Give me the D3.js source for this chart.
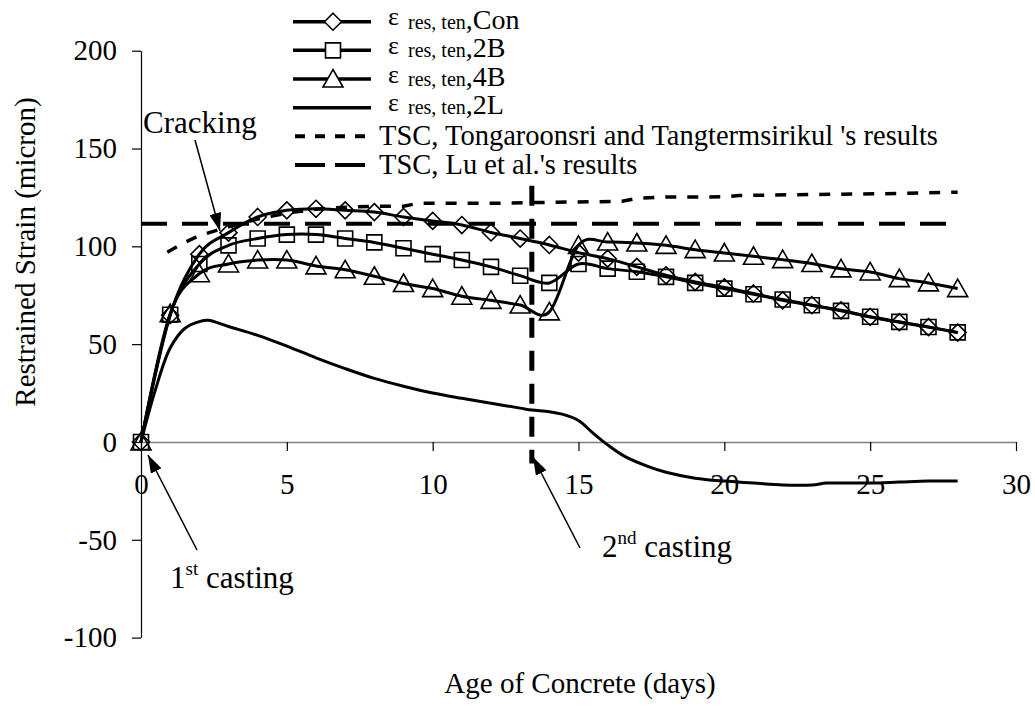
<!DOCTYPE html>
<html>
<head>
<meta charset="utf-8">
<script src="https://cdn.jsdelivr.net/npm/d3@7"></script>
<style>
  body { margin: 0; background: #fff; }
  svg { display: block; }
  text { font-family: "Liberation Serif", "Times New Roman", serif; fill: #000; }
</style>
</head>
<body>
<svg id="chart" width="1035" height="708"></svg>
<script>
// Age of concrete (days) at which the marked series were recorded
const days = [0, 1, 2, 3, 4, 5, 6, 7, 8, 9, 10, 11, 12, 13, 14,
              15, 16, 17, 18, 19, 20, 21, 22, 23, 24, 25, 26, 27, 28];

// Restrained tensile strain (micron) for each wall configuration
const conValues = [0, 64.8, 96, 107, 115, 118.4, 119.2, 118.4, 117.5, 115, 113, 110.9, 107.1, 104, 100.7,
                   96.8, 93.7, 89.5, 85.2, 81.8, 79, 75.9, 72.4, 69.9, 67.3, 63.9, 61.2, 58.7, 55.9];
const b2Values  = [0, 65, 91, 100.5, 104, 106, 106, 104, 102, 99, 96, 93, 89.5, 85, 81.3,
                   91, 88.6, 87, 84.4, 81.3, 78.4, 75.5, 72.8, 69.9, 67, 64, 61.4, 58.8, 56];
const b4Values  = [0, 65.6, 86, 91, 93, 93, 90, 88, 84.7, 81, 78.4, 74.5, 72.4, 70, 66.5,
                   100.5, 102.2, 101.7, 100.5, 98.3, 96.6, 94.9, 93.2, 91.2, 88.5, 86.9, 83.5, 81.3, 78.4];

// 2L configuration (no markers)
const l2Days   = [0, 0.5, 1, 1.5, 2, 2.3, 3, 4, 5, 6, 7, 8, 9, 10, 11, 12, 13, 13.4, 14, 14.5,
                  15, 15.5, 16, 16.6, 17.4, 18, 19, 20, 21, 22, 23, 23.5, 24, 25, 26, 27, 28];
const l2Values = [0, 27, 48, 58, 61.5, 62.2, 59, 54.5, 49, 43, 37.5, 32.5, 28.5, 25, 22.3, 19.8, 17.3, 16.3, 15.5, 14,
                  11, 4.5, -1.5, -7.5, -12.6, -15.5, -18.5, -20, -21, -22, -22, -21, -21, -21, -20.5, -20, -20];

// Tensile strain capacity, Tongaroonsri and Tangtermsirikul
const tongDays   = [0.9, 1.5, 2, 3, 4, 5, 6, 7, 8, 9, 9.5, 12, 14, 16.5, 17, 18, 20, 20.5, 23, 26, 28];
const tongValues = [97, 102, 105.5, 110, 114, 117, 119, 120, 120.5, 120.5, 122, 122, 122.5, 123, 124.5, 125.2, 125.3, 126, 126.5, 127, 127.7];

// Tensile strain capacity, Lu et al.
const luDays   = [0, 28];
const luValues = [111.6, 111.6];

// Second casting
const castDay = 13.4;
const castRange = [-11, 131];

const xTicks = [0, 5, 10, 15, 20, 25, 30];
const yTicks = [-100, -50, 0, 50, 100, 150, 200];
const yTickLabels = ["-100", "-50", "0", "50", "100", "150", "200"];

const svg = d3.select("#chart");
const x = d3.scaleLinear().domain([0, 30]).range([141, 1016]);
const y = d3.scaleLinear().domain([-100, 200]).range([637.6, 50.7]);

// arrowhead
svg.append("defs").append("marker")
  .attr("id", "arrow")
  .attr("markerUnits", "userSpaceOnUse")
  .attr("viewBox", "0 0 18 12")
  .attr("markerWidth", 18).attr("markerHeight", 12)
  .attr("refX", 18).attr("refY", 6)
  .attr("orient", "auto")
  .append("path").attr("d", "M0,0 L18,6 L0,12 Z").attr("fill", "#000");

// axes
const yAxis = svg.append("g")
  .attr("transform", `translate(${x(0)},0)`)
  .call(d3.axisLeft(y).tickValues(yTicks).tickSize(9).tickSizeOuter(0).tickPadding(15)
        .tickFormat((d, i) => yTickLabels[i]));
yAxis.select(".domain").attr("stroke", "#000").attr("stroke-width", 1.2);
yAxis.selectAll(".tick line").attr("stroke", "#000").attr("stroke-width", 1.2);
yAxis.selectAll("text").style("font-size", "29px").attr("font-family", null);

const xAxis = svg.append("g")
  .attr("transform", `translate(0,${y(0)})`)
  .call(d3.axisBottom(x).tickValues(xTicks).tickSize(9).tickSizeOuter(0));
xAxis.select(".domain").attr("stroke", "#808080").attr("stroke-width", 1.6);
xAxis.selectAll(".tick line").attr("stroke", "#000").attr("stroke-width", 1.2);
xAxis.selectAll("text").style("font-size", "29px").attr("font-family", null)
  .attr("y", 52).attr("dy", null);

// reference capacity lines
const straight = d3.line().x(d => x(d[0])).y(d => y(d[1]));
svg.append("path")
  .attr("d", straight(d3.zip(luDays, luValues)))
  .attr("fill", "none").attr("stroke", "#000").attr("stroke-width", 4)
  .attr("stroke-dasharray", "26,15");
svg.append("path")
  .attr("d", straight(d3.zip(tongDays, tongValues)))
  .attr("fill", "none").attr("stroke", "#000").attr("stroke-width", 3.5)
  .attr("stroke-dasharray", "11,11");

// strain series
const smooth = d3.line().x(d => x(d[0])).y(d => y(d[1])).curve(d3.curveCardinal.tension(0));
const smoothL = d3.line().x(d => x(d[0])).y(d => y(d[1])).curve(d3.curveCatmullRom.alpha(0.5));

const markerPaths = {
  diamond: (cx, cy) => `M${cx},${cy - 8.5}L${cx + 8.5},${cy}L${cx},${cy + 8.5}L${cx - 8.5},${cy}Z`,
  square: (cx, cy) => `M${cx - 7.5},${cy - 7.5}h15v15h-15Z`,
  triangle: (cx, cy) => `M${cx},${cy - 9.5}L${cx + 10},${cy + 8}L${cx - 10},${cy + 8}Z`
};

const series = [
  { values: conValues, marker: "diamond" },
  { values: b2Values, marker: "square" },
  { values: b4Values, marker: "triangle" }
];

series.forEach(s => {
  const pts = d3.zip(days, s.values);
  svg.append("path").attr("d", smooth(pts))
    .attr("fill", "none").attr("stroke", "#000").attr("stroke-width", 3);
});
series.forEach(s => {
  const pts = d3.zip(days, s.values);
  svg.append("g").selectAll("path").data(pts).join("path")
    .attr("d", d => markerPaths[s.marker](x(d[0]), y(d[1])))
    .attr("fill", "none").attr("stroke", "#000").attr("stroke-width", 1.6);
});

svg.append("path").attr("d", smoothL(d3.zip(l2Days, l2Values)))
  .attr("fill", "none").attr("stroke", "#000").attr("stroke-width", 3);

// second casting marker line
svg.append("line")
  .attr("x1", x(castDay)).attr("x2", x(castDay))
  .attr("y1", y(castRange[1])).attr("y2", y(castRange[0]))
  .attr("stroke", "#000").attr("stroke-width", 5).attr("stroke-dasharray", "20,13");

// annotations
svg.append("text").attr("x", 143).attr("y", 133).style("font-size", "31px").text("Cracking");
svg.append("line").attr("x1", 195).attr("y1", 140).attr("x2", 220).attr("y2", 231)
  .attr("stroke", "#000").attr("stroke-width", 1.5).attr("marker-end", "url(#arrow)");

const first = svg.append("text").attr("x", 170).attr("y", 588).style("font-size", "31px");
first.append("tspan").text("1");
first.append("tspan").attr("dy", -13).style("font-size", "19px").text("st");
first.append("tspan").attr("dy", 13).text(" casting");
svg.append("line").attr("x1", 197).attr("y1", 550).attr("x2", 148).attr("y2", 455)
  .attr("stroke", "#000").attr("stroke-width", 1.5).attr("marker-end", "url(#arrow)");

const second = svg.append("text").attr("x", 602).attr("y", 557).style("font-size", "31px");
second.append("tspan").text("2");
second.append("tspan").attr("dy", -13).style("font-size", "19px").text("nd");
second.append("tspan").attr("dy", 13).text(" casting");
svg.append("line").attr("x1", 580).attr("y1", 548).attr("x2", 533).attr("y2", 457)
  .attr("stroke", "#000").attr("stroke-width", 1.5).attr("marker-end", "url(#arrow)");

// axis titles
svg.append("text").attr("transform", "translate(35,252) rotate(-90)")
  .attr("text-anchor", "middle").style("font-size", "29px").text("Restrained Strain (micron)");
svg.append("text").attr("x", 580).attr("y", 693)
  .attr("text-anchor", "middle").style("font-size", "29px").text("Age of Concrete (days)");

// legend
const legendRows = [
  { kind: "eps", name: ",Con", marker: "diamond" },
  { kind: "eps", name: ",2B", marker: "square" },
  { kind: "eps", name: ",4B", marker: "triangle" },
  { kind: "eps", name: ",2L", marker: null },
  { kind: "tsc", name: "TSC, Tongaroonsri and Tangtermsirikul 's results", dash: "10,10" },
  { kind: "tsc", name: "TSC, Lu et al.'s results", dash: "30,10" }
];
const legend = svg.append("g");
legendRows.forEach((r, i) => {
  const ry = 21.7 + 28.65 * i;
  if (r.kind === "eps") {
    legend.append("line").attr("x1", 293).attr("x2", 371).attr("y1", ry).attr("y2", ry)
      .attr("stroke", "#000").attr("stroke-width", 3.5);
    if (r.marker) {
      legend.append("path").attr("d", markerPaths[r.marker](333, ry))
        .attr("fill", "#fff").attr("stroke", "#000").attr("stroke-width", 1.6);
    }
    legend.append("text").attr("x", 388).attr("y", ry + 3.5).style("font-size", "26px").text("ε");
    const t = legend.append("text").attr("x", 408).attr("y", ry + 6.8).style("font-size", "20px");
    t.append("tspan").text("res, ten");
    t.append("tspan").style("font-size", "28px").text(r.name);
  } else {
    legend.append("line").attr("x1", 295).attr("x2", 366).attr("y1", ry).attr("y2", ry)
      .attr("stroke", "#000").attr("stroke-width", 4).attr("stroke-dasharray", r.dash);
    legend.append("text").attr("x", 379).attr("y", ry + 9).style("font-size", "28.5px").text(r.name);
  }
});
</script>
</body>
</html>
